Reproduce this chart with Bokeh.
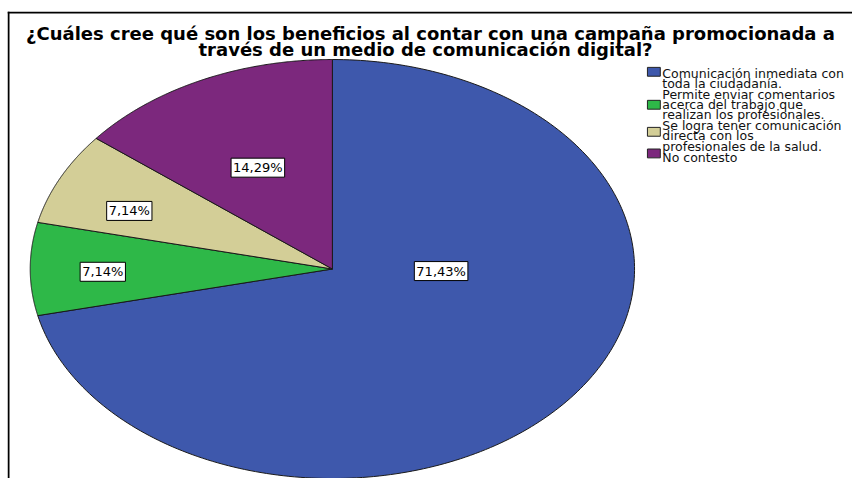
import numpy as np
from bokeh.plotting import figure
from bokeh.models import Range1d, Label, Span, BoxAnnotation
from bokeh.embed import file_html
from bokeh.resources import INLINE

# ---- data ----
title_lines = ["¿Cuáles cree qué son los beneficios al contar con una campaña promocionada a",
               "través de un medio de comunicación digital?"]
categories = ["Comunicación inmediata con\ntoda la ciudadanía.",
              "Permite enviar comentarios\nacerca del trabajo que\nrealizan los profesionales.",
              "Se logra tener comunicación\ndirecta con los\nprofesionales de la salud.",
              "No contesto"]
counts = [10, 1, 1, 2]
colors = ["#3E58AC", "#2EB848", "#D3CE97", "#7C287D"]

# ---- layout ----
W, H = 852, 478
FL, FT = 7, 11                          # frame left / top (figure px)
SX, SY = W / 860.0, H / 486.0          # reference px -> figure px
CX, CY, RX, RY = 335.0 * SX, 273.0 * SY, 305.0 * SX, 213.0 * SY

def dx(ref_px):
    return (ref_px * SX - CX) / RX

def dy(ref_py):
    return (CY - ref_py * SY) / RY

label_radius = [0.36, 0.76, 0.727, 0.543]
label_angle_shift = [37.0, 1.0, 3.3, 1.3]
FONT = "DejaVu Sans"

# legend layout (reference px)
LEG_TEXT_X = 668
LEG_LINE_BASELINES = [74.5, 84.5, 95.5, 105.5, 116, 127.5, 137.5, 148, 160]
LEG_SWATCH_X = (653, 666)
LEG_SWATCH_CENTERS = [72.5, 106, 133.5, 155.5]
LEG_SWATCH_H = 9

x0, x1 = (FL - CX) / RX, (W - CX) / RX
y0, y1 = -(H - CY) / RY, (CY - FT) / RY
p = figure(width=W, height=H, output_backend="svg", toolbar_location=None,
           x_range=Range1d(x0, x1), y_range=Range1d(y0, y1),
           min_border_left=FL, min_border_right=0, min_border_top=FT, min_border_bottom=0,
           x_axis_type=None, y_axis_type=None)
p.grid.visible = False
p.outline_line_color = None
p.background_fill_color = "white"
p.border_fill_color = "white"

# frame lines (left and top)
p.add_layout(Span(location=x0 + 1.0 / RX, dimension="height", line_color="black", line_width=2))
p.add_layout(Span(location=y1 - 1.0 / RY, dimension="width", line_color="black", line_width=2))

# ---- pie ----
total = float(sum(counts))
fracs = np.array(counts) / total
start = np.pi / 2
mids = []
for i, f in enumerate(fracs):
    end = start - f * 2 * np.pi
    t = np.linspace(start, end, 240)
    xs = [0.0] + list(np.cos(t)) + [0.0]
    ys = [0.0] + list(np.sin(t)) + [0.0]
    p.patch(xs, ys, fill_color=colors[i], line_color="#1a1a1a", line_width=1)
    mids.append((start + end) / 2)
    start = end

for i, f in enumerate(fracs):
    a = mids[i] + np.deg2rad(label_angle_shift[i])
    txt = f"{f * 100:.2f}".replace(".", ",") + "%"
    p.add_layout(Label(x=label_radius[i] * np.cos(a), y=label_radius[i] * np.sin(a), text=txt,
                       text_align="center", text_baseline="middle",
                       text_font=FONT, text_font_size="13px", text_color="black",
                       background_fill_color="white", border_line_color="black",
                       border_line_width=1, padding=2))

# ---- title ----
p.add_layout(Label(x=dx(434), y=dy(34), text=title_lines[0], text_align="center",
                   text_baseline="alphabetic", text_font=FONT,
                   text_font_style="bold", text_font_size="18px", text_color="black"))
p.add_layout(Label(x=dx(429), y=dy(50), text=title_lines[1], text_align="center",
                   text_baseline="alphabetic", text_font=FONT,
                   text_font_style="bold", text_font_size="18px", text_color="black"))

# ---- legend (built from the category list) ----
line_idx = 0
for i, cat in enumerate(categories):
    cy = LEG_SWATCH_CENTERS[i]
    p.add_layout(BoxAnnotation(left=dx(LEG_SWATCH_X[0]), right=dx(LEG_SWATCH_X[1]),
                               top=dy(cy - LEG_SWATCH_H / 2), bottom=dy(cy + LEG_SWATCH_H / 2),
                               fill_color=colors[i], fill_alpha=1.0,
                               line_color="#222222", line_width=1, line_alpha=1.0))
    for line in cat.split("\n"):
        p.add_layout(Label(x=dx(LEG_TEXT_X), y=dy(LEG_LINE_BASELINES[line_idx]), text=line,
                           text_align="left", text_baseline="alphabetic",
                           text_font=FONT, text_font_size="12.5px", text_color="#111111"))
        line_idx += 1

open("out.html", "w").write(file_html(p, INLINE))
